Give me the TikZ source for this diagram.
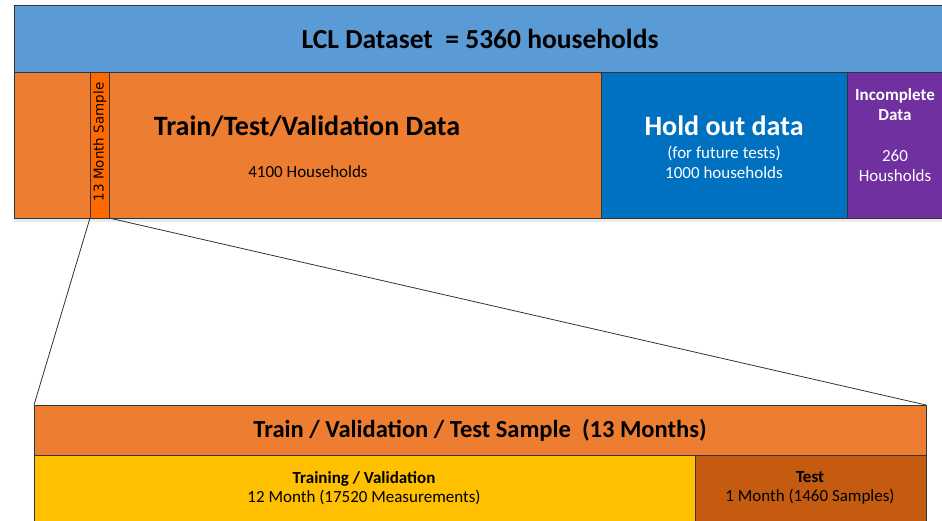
\documentclass[tikz,border=0pt]{standalone}
\usepackage{fontspec}
\setmainfont{Carlito}
\newfontfamily\vfont{DejaVu Sans}
\definecolor{topblue}{HTML}{5B9BD5}
\definecolor{orangeA}{HTML}{ED7D31}
\definecolor{holdblue}{HTML}{0070C0}
\definecolor{purpleA}{HTML}{7030A0}
\definecolor{sampleor}{HTML}{FF6A00}
\definecolor{yellowA}{HTML}{FFC000}
\definecolor{testor}{HTML}{C55A11}
\begin{document}
\begin{tikzpicture}[x=1pt,y=-1pt,
  blk/.style={draw=black!80,line width=0.8pt,anchor=north west,inner sep=0pt,outer sep=0pt},
  txt/.style={inner sep=0pt,align=center},
  bigf/.style={font=\bfseries\fontsize{28}{30}\selectfont},
  smallf/.style={font=\fontsize{17}{20}\selectfont},
  smallbf/.style={font=\bfseries\fontsize{17}{20}\selectfont}]
\useasboundingbox (0,0) rectangle (942,520);
% shadow
\fill[black!8] (14,218) rectangle (942,222);
% top bar
\node[blk,fill=topblue,minimum width=928pt,minimum height=67pt] (lcl) at (14,5) {};
\node[txt,font=\bfseries\fontsize{27.5}{30}\selectfont] (lcltxt) at (480,39) {LCL Dataset\ \ = 5360 households};
% second row
\node[blk,fill=orangeA,minimum width=587pt,minimum height=146pt] (train) at (14,72) {};
\node[blk,fill=holdblue,minimum width=246pt,minimum height=146pt] (hold) at (601,72) {};
\node[blk,fill=purpleA,minimum width=95pt,minimum height=146pt] (inc) at (847,72) {};
\node[blk,fill=sampleor,minimum width=19pt,minimum height=146pt] (samp) at (90,72) {};
\node[txt,rotate=90,font=\vfont\fontsize{13.5}{15}\selectfont] (samptxt) at (100,142) {13 Month Sample};
\node[txt,bigf] (traintxt) at (307,126) {Train/Test/Validation Data};
\node[txt,smallf] (trainsub) at (308,172) {4100 Households};
\node[txt,text=white,bigf] (holdtxt) at (724,126) {Hold out data};
\node[txt,text=white,smallf] (holdsub) at (724,162) {(for future tests)\\1000 households};
\node[txt,text=white,smallbf] (inctxt) at (895,105) {Incomplete\\Data};
\node[txt,text=white,smallf] (incsub) at (895,166) {260\\Housholds};
% lower
\node[blk,fill=orangeA,minimum width=892pt,minimum height=50pt] (tvt) at (34,405) {};
\node[blk,fill=yellowA,minimum width=661pt,minimum height=70pt] (tv) at (34,455) {};
\node[blk,fill=testor,minimum width=231pt,minimum height=70pt] (test) at (695,455) {};
\node[txt,font=\bfseries\fontsize{24.5}{28}\selectfont] (tvttxt) at (480,430) {Train / Validation / Test Sample\ \ (13 Months)};
\node[txt,font=\fontsize{17}{19.5}\selectfont] (tvtxt) at (364,488) {\textbf{Training / Validation}\\12 Month (17520 Measurements)};
\node[txt,font=\fontsize{17}{19.5}\selectfont] (testtxt) at (810,488) {\textbf{Test}\\1 Month (1460 Samples)};
% zoom lines
\draw[black!80,line width=0.8pt] (samp.south west) -- (tvt.north west);
\draw[black!80,line width=0.8pt] (samp.south east) -- (tvt.north east);
\end{tikzpicture}
\end{document}
